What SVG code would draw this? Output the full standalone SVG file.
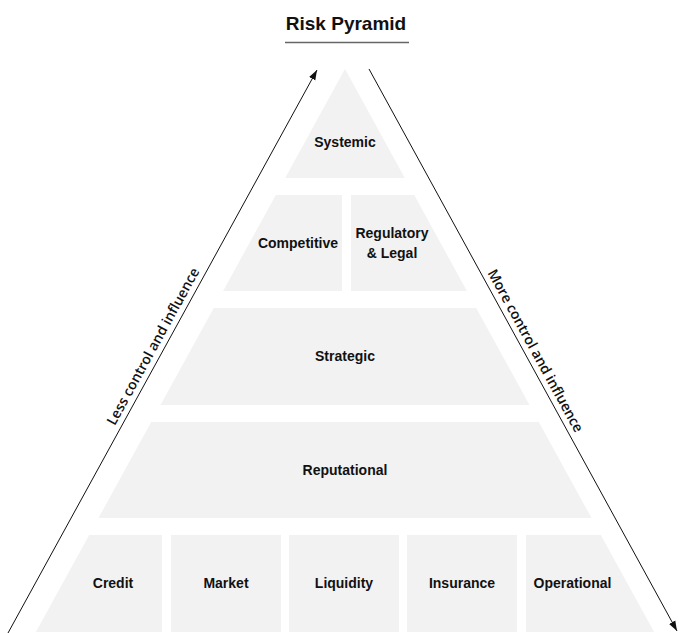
<svg xmlns="http://www.w3.org/2000/svg" width="679" height="633" viewBox="0 0 679 633">
<style>
.blk{fill:#f2f2f2;stroke:none}
.lbl{font-family:"Liberation Sans",Arial,sans-serif;font-weight:bold;font-size:14px;fill:#111;text-anchor:middle}
.side{font-family:"Open Sans","Noto Sans",sans-serif;font-weight:600;font-size:14px;fill:#111;text-anchor:middle}
.title{font-family:"Liberation Sans",Arial,sans-serif;font-weight:bold;font-size:19px;fill:#111;text-anchor:middle}
.ax{stroke:#111;stroke-width:1;fill:none}
</style>
<defs>
<marker id="ah" markerUnits="userSpaceOnUse" markerWidth="10" markerHeight="8" refX="10" refY="4" orient="auto">
<path d="M0,0.5 L10,4 L0,7.5 z" fill="#111"/>
</marker>
</defs>
<rect width="679" height="633" fill="#fff"/>
<g id="title">
<text class="title" x="346" y="30">Risk Pyramid</text>
<line x1="285" y1="42.5" x2="409" y2="42.5" stroke="#666" stroke-width="1.5"/>
</g>
<g id="connectors">
<line class="ax" x1="8" y1="633" x2="317" y2="70" marker-end="url(#ah)"/>
<line class="ax" x1="369" y1="69" x2="677" y2="631" marker-end="url(#ah)"/>
</g>
<g id="less-label"><text class="side" transform="translate(162.5,351.6) rotate(-61.25)" x="0" y="-6">Less control and influence</text></g>
<g id="more-label"><text class="side" transform="translate(526,356) rotate(61.25)" x="0" y="-6">More control and influence</text></g>
<g id="systemic"><polygon class="blk" points="345,69 404.8,178 285.2,178"/><text class="lbl" x="345" y="147">Systemic</text></g>
<g id="competitive"><polygon class="blk" points="275.8,195 342,195 342,291 223.1,291"/><text class="lbl" x="298" y="248">Competitive</text></g>
<g id="regulatory"><polygon class="blk" points="351,195 414.2,195 466.9,291 351,291"/><text class="lbl" x="392" y="238">Regulatory</text><text class="lbl" x="392" y="258">&amp; Legal</text></g>
<g id="strategic"><polygon class="blk" points="213.8,308 476.2,308 529.5,405 160.5,405"/><text class="lbl" x="345" y="361">Strategic</text></g>
<g id="reputational"><polygon class="blk" points="151.2,422 538.8,422 591.5,518 98.5,518"/><text class="lbl" x="345" y="475">Reputational</text></g>
<g id="credit"><polygon class="blk" points="89.2,535 162,535 162,632 35.9,632"/><text class="lbl" x="113" y="588">Credit</text></g>
<g id="market"><rect class="blk" x="171" y="535" width="110" height="97"/><text class="lbl" x="226" y="588">Market</text></g>
<g id="liquidity"><rect class="blk" x="289" y="535" width="110" height="97"/><text class="lbl" x="344" y="588">Liquidity</text></g>
<g id="insurance"><rect class="blk" x="407" y="535" width="110" height="97"/><text class="lbl" x="462" y="588">Insurance</text></g>
<g id="operational"><polygon class="blk" points="526,535 600.8,535 654.1,632 526,632"/><text class="lbl" x="572.5" y="588">Operational</text></g>
</svg>
